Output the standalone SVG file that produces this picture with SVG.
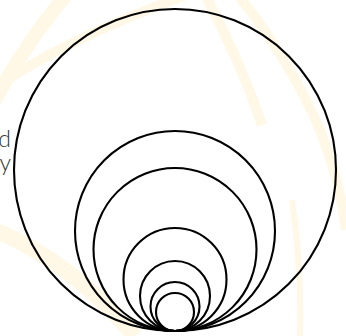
<svg xmlns="http://www.w3.org/2000/svg" width="346" height="336" viewBox="0 0 346 336">
  <style>
    .bg { fill: none; stroke: #fff8e6; stroke-linecap: butt; }
    .ring { fill: none; stroke: #000; stroke-width: 2.1; }
    .lbl { font-family: Lato, "Open Sans", sans-serif; font-weight: 300; font-size: 23px; fill: #333; }
  </style>
  <rect width="346" height="336" fill="#fff"/>
  <g id="background">
    <path class="bg" stroke-width="14" d="M -10 110 Q 20 50 70 -10"/>
    <path class="bg" stroke-width="10" d="M -10 92 Q 60 40 200 -10"/>
    <path class="bg" stroke-width="10" d="M 205 -5 Q 240 60 262 125"/>
    <path class="bg" stroke-width="10" d="M 238 -5 Q 290 60 320 130 Q 340 180 346 230"/>
    <path class="bg" stroke-width="16" d="M -10 228 Q 70 260 135 336"/>
    <path class="bg" stroke-width="6" d="M 292 200 Q 302 270 300 336"/>
  </g>
  <g id="text">
    <text class="lbl" x="11" y="146.5" text-anchor="end">d</text>
    <text class="lbl" x="11" y="170.5" text-anchor="end">y</text>
  </g>
  <g id="circles">
    <circle id="c1" class="ring" cx="175" cy="170" r="161"/>
    <circle id="c2" class="ring" cx="175" cy="231" r="100"/>
    <circle id="c3" class="ring" cx="175" cy="249.5" r="81.5"/>
    <circle id="c4" class="ring" cx="175" cy="279.5" r="51.5"/>
    <circle id="c5" class="ring" cx="175" cy="296" r="35"/>
    <circle id="c6" class="ring" cx="175" cy="306.5" r="24.5"/>
    <circle id="c7" class="ring" cx="175" cy="312" r="19"/>
  </g>
</svg>
